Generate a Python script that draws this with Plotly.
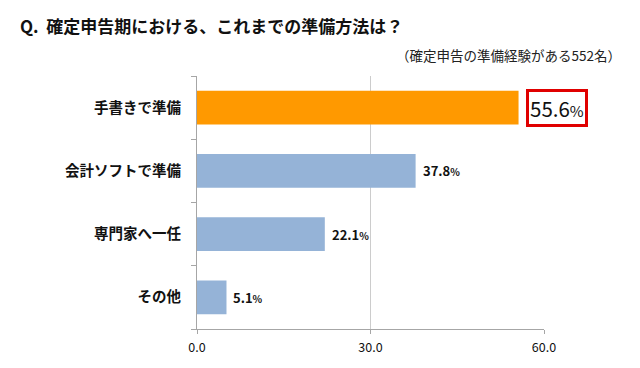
import plotly.graph_objects as go

categories = ["手書きで準備", "会計ソフトで準備", "専門家へ一任", "その他"]
values = [55.6, 37.8, 22.1, 5.1]
bar_colors = ["#FF9900", "#95B3D7", "#95B3D7", "#95B3D7"]
x_ticks = [0, 30, 60]
x_tick_labels = ["0.0", "30.0", "60.0"]
title_text = "Q.  確定申告期における、これまでの準備方法は？"
subtitle_text = "（確定申告の準備経験がある552名）"

FONT = "Noto Sans CJK JP"

fig = go.Figure()
fig.add_trace(go.Bar(
    x=values, y=categories, orientation="h",
    marker=dict(color=bar_colors, line=dict(width=0)),
    width=0.53, hoverinfo="skip",
))

annotations = []
for i, (c, v) in enumerate(zip(categories, values)):
    if i == 0:
        annotations.append(dict(
            x=v, y=c, xref="x", yref="y", xanchor="left", yanchor="middle",
            text=f"{v:.1f}<span style='font-size:15px'>%</span>",
            showarrow=False, xshift=7,
            font=dict(family=FONT, size=20.5, color="#111111"),
            bordercolor="#E00000", borderwidth=3, borderpad=1,
            bgcolor="white",
        ))
    else:
        annotations.append(dict(
            x=v, y=c, xref="x", yref="y", xanchor="left", yanchor="middle",
            text=f"<b>{v:.1f}</b><span style='font-size:10px'><b>%</b></span>",
            showarrow=False, xshift=5,
            font=dict(family=FONT, size=13, color="#111111"),
        ))

W, H = 640, 368
ml, mr, mt, mb = 197, 96, 76, 34
pw, ph = W - ml - mr, H - mt - mb


def px(x, y):
    return (x - ml) / pw, (H - mb - y) / ph


tx, ty = px(18, 25)
annotations.append(dict(
    x=tx, y=ty, xref="paper", yref="paper", xanchor="left", yanchor="middle",
    text=f"<b>{title_text}</b>", showarrow=False,
    font=dict(family=FONT, size=17, color="#111111"),
))
sx, sy = px(623, 55)
annotations.append(dict(
    x=sx, y=sy, xref="paper", yref="paper", xanchor="right", yanchor="middle",
    text=subtitle_text, showarrow=False,
    font=dict(family=FONT, size=13.5, color="#222222"),
))

fig.update_layout(
    width=W, height=H,
    margin=dict(l=ml, r=mr, t=mt, b=mb),
    paper_bgcolor="white", plot_bgcolor="white",
    showlegend=False,
    annotations=annotations,
    font=dict(family=FONT, color="#111111"),
    xaxis=dict(
        range=[0, 60], tickvals=x_ticks, ticktext=x_tick_labels,
        showgrid=True, gridcolor="#CCCCCC", gridwidth=1,
        showline=True, linecolor="#A6A6A6", linewidth=1,
        ticks="outside", ticklen=4, tickcolor="#A6A6A6",
        tickfont=dict(family=FONT, size=12.5, color="#111111"),
        ticklabelstandoff=3,
        zeroline=False, fixedrange=True,
    ),
    yaxis=dict(
        autorange="reversed",
        showline=True, linecolor="#A6A6A6", linewidth=1,
        ticks="outside", ticklen=5, tickcolor="#A6A6A6",
        tickson="boundaries",
        tickvals=categories,
        ticktext=[f"<b>{c}</b>" for c in categories],
        tickfont=dict(family=FONT, size=14.5, color="#111111"),
        ticklabelstandoff=12,
        fixedrange=True,
    ),
)

fig.write_html("out.html", config={"displayModeBar": False},
               post_script="document.body.style.margin='0';")
